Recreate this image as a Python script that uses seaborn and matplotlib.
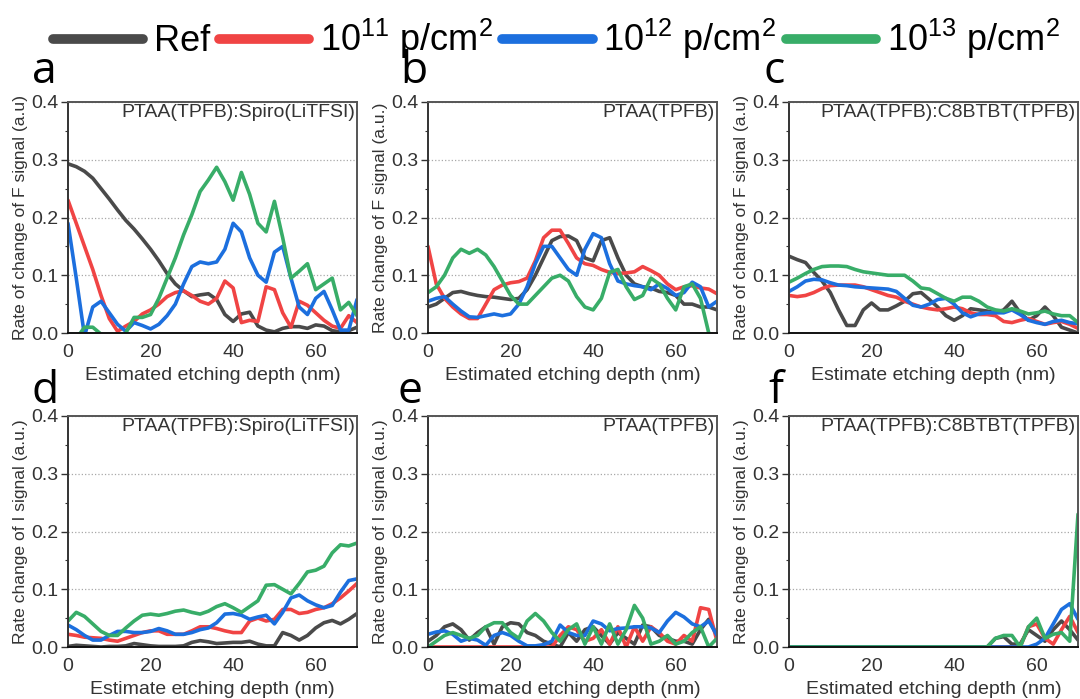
import numpy as np
import pandas as pd
import matplotlib
matplotlib.use("Agg")
import matplotlib.pyplot as plt
from matplotlib.ticker import MultipleLocator, FormatStrFormatter
import seaborn as sns

sns.set_style("ticks")
plt.rcParams["font.family"] = ["Liberation Sans", "DejaVu Sans"]
plt.rcParams["mathtext.fontset"] = "custom"
plt.rcParams["mathtext.rm"] = "Liberation Sans"
plt.rcParams["mathtext.it"] = "Liberation Sans:italic"

# Etching depth (nm) at which every profile is sampled
depth = np.arange(0, 71, 2)

series_labels = ["Ref", "10$^{11}$ p/cm$^2$", "10$^{12}$ p/cm$^2$", "10$^{13}$ p/cm$^2$"]
series_colors = ["#4a4a4a", "#f04444", "#1c6fde", "#38ad68"]

# (a) F signal, PTAA(TPFB):Spiro(LiTFSI)
a_ref = [0.293, 0.288, 0.280, 0.268, 0.250, 0.232, 0.213, 0.195, 0.180, 0.163,
         0.145, 0.125, 0.103, 0.085, 0.073, 0.063, 0.066, 0.068, 0.058, 0.032,
         0.020, 0.033, 0.036, 0.012, 0.005, 0.002, 0.008, 0.011, 0.011, 0.008,
         0.014, 0.012, 0.004, 0.002, 0.004, 0.010]
a_e11 = [0.230, 0.190, 0.150, 0.110, 0.065, 0.025, 0.003, 0.012, 0.020, 0.033,
         0.040, 0.050, 0.063, 0.070, 0.073, 0.065, 0.055, 0.050, 0.060, 0.090,
         0.078, 0.018, 0.022, 0.020, 0.080, 0.075, 0.035, 0.010, 0.055, 0.048,
         0.035, 0.022, 0.012, 0.008, 0.030, 0.018]
a_e12 = [0.190, 0.095, -0.005, 0.045, 0.055, 0.035, 0.015, 0.003, 0.018, 0.013,
         0.007, 0.015, 0.030, 0.050, 0.085, 0.115, 0.123, 0.120, 0.123, 0.145,
         0.190, 0.175, 0.130, 0.100, 0.088, 0.140, 0.150, 0.095, 0.045, 0.032,
         0.060, 0.072, 0.040, 0.005, 0.005, 0.058]
a_e13 = [-0.030, -0.010, 0.010, 0.010, -0.002, -0.020, -0.020, 0.000, 0.027, 0.027,
         0.032, 0.060, 0.095, 0.130, 0.170, 0.205, 0.245, 0.265, 0.287, 0.262,
         0.230, 0.278, 0.240, 0.190, 0.175, 0.228, 0.165, 0.095, 0.107, 0.120,
         0.075, 0.085, 0.095, 0.040, 0.053, 0.030]

# (b) F signal, PTAA(TPFB)
b_ref = [0.045, 0.050, 0.060, 0.070, 0.072, 0.068, 0.065, 0.063, 0.062, 0.060,
         0.058, 0.060, 0.075, 0.100, 0.130, 0.160, 0.167, 0.168, 0.160, 0.130,
         0.125, 0.160, 0.165, 0.130, 0.100, 0.085, 0.080, 0.078, 0.072, 0.070,
         0.065, 0.050, 0.050, 0.045, 0.045, 0.040]
b_e11 = [0.150, 0.085, 0.060, 0.045, 0.033, 0.025, 0.025, 0.050, 0.075, 0.083,
         0.087, 0.089, 0.095, 0.125, 0.165, 0.178, 0.178, 0.155, 0.130, 0.120,
         0.117, 0.110, 0.105, 0.103, 0.104, 0.106, 0.115, 0.108, 0.100, 0.085,
         0.075, 0.080, 0.082, 0.078, 0.076, 0.068]
b_e12 = [0.055, 0.060, 0.063, 0.050, 0.038, 0.028, 0.027, 0.030, 0.033, 0.030,
         0.033, 0.050, 0.080, 0.120, 0.150, 0.150, 0.130, 0.110, 0.100, 0.145,
         0.172, 0.165, 0.120, 0.090, 0.085, 0.082, 0.080, 0.075, 0.085, 0.077,
         0.065, 0.070, 0.088, 0.080, 0.045, 0.055]
b_e13 = [0.070, 0.080, 0.100, 0.130, 0.145, 0.138, 0.145, 0.135, 0.115, 0.090,
         0.065, 0.050, 0.050, 0.065, 0.080, 0.095, 0.100, 0.090, 0.063, 0.045,
         0.040, 0.060, 0.105, 0.110, 0.080, 0.058, 0.065, 0.095, 0.085, 0.060,
         0.040, 0.080, 0.085, 0.060, 0.000, -0.030]

# (c) F signal, PTAA(TPFB):C8BTBT(TPFB)
c_ref = [0.133, 0.127, 0.122, 0.105, 0.090, 0.070, 0.040, 0.013, 0.013, 0.040,
         0.052, 0.040, 0.040, 0.047, 0.055, 0.068, 0.070, 0.058, 0.045, 0.030,
         0.022, 0.030, 0.042, 0.040, 0.038, 0.035, 0.040, 0.055, 0.035, 0.022,
         0.030, 0.045, 0.030, 0.010, 0.005, 0.000]
c_e11 = [0.065, 0.063, 0.065, 0.070, 0.077, 0.082, 0.083, 0.083, 0.083, 0.080,
         0.075, 0.070, 0.065, 0.062, 0.055, 0.050, 0.045, 0.042, 0.040, 0.042,
         0.045, 0.042, 0.035, 0.032, 0.032, 0.030, 0.020, 0.018, 0.022, 0.025,
         0.020, 0.015, 0.018, 0.020, 0.015, 0.008]
c_e12 = [0.072, 0.080, 0.090, 0.093, 0.092, 0.087, 0.083, 0.082, 0.080, 0.079,
         0.078, 0.077, 0.076, 0.072, 0.060, 0.048, 0.045, 0.050, 0.058, 0.060,
         0.050, 0.035, 0.028, 0.033, 0.035, 0.035, 0.035, 0.040, 0.032, 0.022,
         0.018, 0.015, 0.020, 0.022, 0.018, 0.016]
c_e13 = [0.088, 0.095, 0.103, 0.110, 0.115, 0.116, 0.116, 0.115, 0.110, 0.106,
         0.104, 0.102, 0.100, 0.100, 0.100, 0.090, 0.078, 0.076, 0.068, 0.060,
         0.055, 0.062, 0.062, 0.055, 0.045, 0.040, 0.038, 0.042, 0.038, 0.033,
         0.035, 0.038, 0.033, 0.030, 0.030, 0.018]

# (d) I signal, PTAA(TPFB):Spiro(LiTFSI)
d_ref = [0.001, 0.003, 0.002, 0.001, 0.000, 0.001, 0.001, 0.002, 0.006, 0.004,
         0.002, 0.001, 0.001, 0.001, 0.002, 0.008, 0.011, 0.009, 0.006, 0.007,
         0.008, 0.008, 0.010, 0.005, 0.002, 0.002, 0.025, 0.020, 0.012, 0.020,
         0.033, 0.042, 0.046, 0.040, 0.048, 0.058]
d_e11 = [0.022, 0.020, 0.017, 0.016, 0.015, 0.012, 0.010, 0.015, 0.020, 0.025,
         0.028, 0.028, 0.022, 0.022, 0.022, 0.028, 0.035, 0.035, 0.032, 0.028,
         0.025, 0.025, 0.045, 0.050, 0.045, 0.048, 0.065, 0.065, 0.058, 0.060,
         0.065, 0.068, 0.075, 0.085, 0.097, 0.110]
d_e12 = [0.038, 0.030, 0.020, 0.012, 0.012, 0.020, 0.027, 0.027, 0.025, 0.025,
         0.027, 0.032, 0.028, 0.022, 0.022, 0.025, 0.030, 0.033, 0.042, 0.057,
         0.058, 0.055, 0.048, 0.052, 0.055, 0.040, 0.060, 0.085, 0.090, 0.080,
         0.073, 0.068, 0.072, 0.095, 0.115, 0.118]
d_e13 = [0.045, 0.060, 0.053, 0.040, 0.027, 0.020, 0.020, 0.033, 0.045, 0.055,
         0.057, 0.055, 0.058, 0.062, 0.064, 0.060, 0.057, 0.062, 0.070, 0.075,
         0.068, 0.060, 0.070, 0.080, 0.107, 0.108, 0.100, 0.092, 0.110, 0.130,
         0.133, 0.140, 0.163, 0.177, 0.175, 0.180]

# (e) I signal, PTAA(TPFB)
e_ref = [0.010, 0.020, 0.035, 0.040, 0.030, 0.012, 0.025, 0.035, 0.005, 0.035,
         0.042, 0.040, 0.025, 0.020, 0.010, 0.005, 0.000, 0.025, 0.010, 0.030,
         0.035, 0.020, 0.005, 0.025, 0.015, 0.005, 0.038, 0.035, 0.020, 0.015,
         0.010, 0.010, 0.005, 0.030, 0.048, 0.020]
e_e11 = [0.000] * 16 + [0.020, 0.035, 0.030, 0.010,
         0.015, 0.030, 0.005, 0.035, 0.000, 0.035, 0.010, 0.035, 0.025, 0.010,
         0.005, 0.020, 0.010, 0.068, 0.065, 0.010]
e_e12 = [0.022, 0.026, 0.028, 0.022, 0.010, 0.015, 0.012, 0.003, 0.020, 0.025,
         0.020, 0.010, 0.002, 0.002, 0.004, 0.010, 0.038, 0.025, 0.020, 0.020,
         0.045, 0.040, 0.028, 0.032, 0.033, 0.035, 0.035, 0.033, 0.025, 0.045,
         0.060, 0.052, 0.040, 0.035, 0.045, 0.020]
e_e13 = [0.000, 0.010, 0.020, 0.025, 0.020, 0.015, 0.020, 0.035, 0.042, 0.042,
         0.025, 0.015, 0.045, 0.058, 0.045, 0.025, 0.010, 0.030, 0.040, 0.005,
         0.035, 0.005, 0.040, 0.005, 0.030, 0.072, 0.050, 0.005, 0.010, 0.020,
         0.005, 0.010, 0.025, 0.035, 0.000, 0.015]

# (f) I signal, PTAA(TPFB):C8BTBT(TPFB)
f_ref = [0.000] * 24 + [0.000, 0.015, 0.018, 0.005, 0.005, 0.030,
                        0.020, 0.010, 0.030, 0.045, 0.030, 0.012]
f_e11 = [0.000] * 28 + [0.000, 0.035, 0.040, 0.015, 0.005, 0.030, 0.053, 0.025]
f_e12 = [0.000] * 28 + [0.000, 0.000, 0.005, 0.015, 0.040, 0.065, 0.075, 0.048]
f_e13 = [0.000] * 24 + [0.000, 0.015, 0.020, 0.020, 0.000, 0.035,
                        0.050, 0.015, 0.022, 0.025, 0.010, 0.230]

panel_letters = ["a", "b", "c", "d", "e", "f"]
sample_names = ["PTAA(TPFB):Spiro(LiTFSI)", "PTAA(TPFB)", "PTAA(TPFB):C8BTBT(TPFB)",
                "PTAA(TPFB):Spiro(LiTFSI)", "PTAA(TPFB)", "PTAA(TPFB):C8BTBT(TPFB)"]
y_titles = ["Rate of change of F signal (a.u)", "Rate change of F signal (a.u.)",
            "Rate of change of F signal (a.u)", "Rate change of I signal (a.u.)",
            "Rate change of I signal (a.u.)", "Rate change of I signal (a.u.)"]
x_titles = ["Estimated etching depth (nm)", "Estimated etching depth (nm)",
            "Estimate etching depth (nm)", "Estimate etching depth (nm)",
            "Estimated etching depth (nm)", "Estimated etching depth (nm)"]
panel_series = [
    [a_ref, a_e11, a_e12, a_e13],
    [b_ref, b_e11, b_e12, b_e13],
    [c_ref, c_e11, c_e12, c_e13],
    [d_ref, d_e11, d_e12, d_e13],
    [e_ref, e_e11, e_e12, e_e13],
    [f_ref, f_e11, f_e12, f_e13],
]

W, H = 1080, 699
fig = plt.figure(figsize=(W / 100, H / 100), dpi=100)

lefts = [68, 428, 789]
tops = [102, 416]
ax_w, ax_h = 289, 231
letter_x = [[32, 400, 764], [31, 397, 768]]
letter_base = [83, 403]

axes = []
for i in range(6):
    r, c = divmod(i, 3)
    ax = fig.add_axes([lefts[c] / W, 1 - (tops[r] + ax_h) / H, ax_w / W, ax_h / H])
    axes.append(ax)
    df = pd.DataFrame({
        "depth": np.tile(depth, 4),
        "rate": np.concatenate([np.asarray(s, dtype=float) for s in panel_series[i]]),
        "dose": np.repeat(series_labels, len(depth)),
    })
    sns.lineplot(data=df, x="depth", y="rate", hue="dose", hue_order=series_labels,
                 palette=series_colors, linewidth=2.6, estimator=None, sort=False,
                 legend=(i == 0), ax=ax)

    ax.set_xlim(0, 70)
    ax.set_ylim(0, 0.4)
    ax.set_xticks([0, 20, 40, 60])
    ax.set_yticks([0.0, 0.1, 0.2, 0.3, 0.4])
    ax.yaxis.set_major_formatter(FormatStrFormatter("%.1f"))
    ax.yaxis.set_minor_locator(MultipleLocator(0.05))
    ax.yaxis.grid(True, linestyle=":", color="#a8a8a8", linewidth=0.9)
    ax.xaxis.grid(False)
    ax.tick_params(axis="y", which="major", direction="out", length=5, width=1,
                   color="#333333", labelsize=14, labelcolor="#333333", pad=2)
    ax.tick_params(axis="y", which="minor", direction="out", length=2.5, width=0.8,
                   color="#333333")
    ax.tick_params(axis="x", which="major", length=0, labelsize=14,
                   labelcolor="#333333", pad=8)
    for side, col in [("left", "#333333"), ("bottom", "#111111"),
                      ("top", "#555555"), ("right", "#555555")]:
        ax.spines[side].set_visible(True)
        ax.spines[side].set_color(col)
        ax.spines[side].set_linewidth(1.4)
    ax.set_xlabel(x_titles[i], fontsize=14, color="#333333", labelpad=4)
    ax.set_ylabel(y_titles[i], fontsize=12.6, color="#333333", labelpad=2)
    ax.text(0.993, 0.99, sample_names[i], transform=ax.transAxes, ha="right",
            va="top", fontsize=14, color="#333333")
    fig.text(letter_x[r][c] / W, 1 - letter_base[r] / H, panel_letters[i],
             fontsize=32, family=["Open Sans", "DejaVu Sans"], color="black",
             ha="left", va="baseline")

handles, labels = axes[0].get_legend_handles_labels()
axes[0].get_legend().remove()
leg = fig.legend(handles, labels, loc="upper center", bbox_to_anchor=(0.515, 1.022),
                 ncol=4, frameon=False, fontsize=26, handlelength=2.5,
                 handletextpad=0.3, columnspacing=0.25, labelcolor="black")
for line in leg.get_lines():
    line.set_linewidth(7)
    line.set_solid_capstyle("round")

fig.savefig("out.png", dpi=100)
